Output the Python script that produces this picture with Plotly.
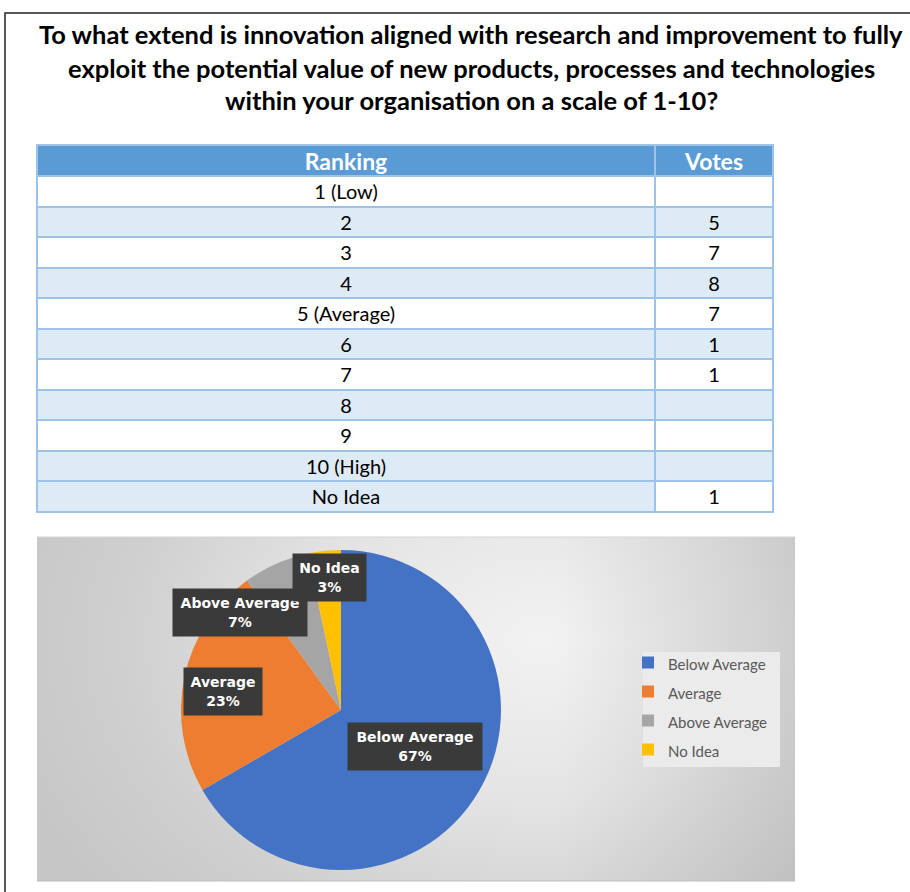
import plotly.graph_objects as go

# ---- data -------------------------------------------------------------
title_lines = [
    "To what extend is innovation aligned with research and improvement to fully",
    "exploit the potential value of new products, processes and technologies",
    "within your organisation on a scale of 1-10?",
]

table_header = ["Ranking", "Votes"]
rankings = ["1 (Low)", "2", "3", "4", "5 (Average)", "6", "7", "8", "9", "10 (High)", "No Idea"]
votes = [None, 5, 7, 8, 7, 1, 1, None, None, None, 1]

groups = ["Below Average", "Average", "Above Average", "No Idea"]
# which ranking rows feed each group
group_members = {
    "Below Average": ["1 (Low)", "2", "3", "4"],
    "Average": ["5 (Average)"],
    "Above Average": ["6", "7", "8", "9", "10 (High)"],
    "No Idea": ["No Idea"],
}
group_colors = ["#4472C4", "#ED7D31", "#A5A5A5", "#FFC000"]

vote_of = dict(zip(rankings, votes))
group_votes = [sum(vote_of[r] or 0 for r in group_members[g]) for g in groups]
total_votes = sum(group_votes)

# ---- page geometry (pixels) -----------------------------------------
W, H = 910, 892


def fx(x):
    return x / W


def fy(y):
    return 1 - y / H


# chart panel box in pixels
P_L, P_R, P_T, P_B = 37, 795, 537, 881


def nx(x):
    return (x - P_L) / (P_R - P_L)


def ny(y):
    return (P_B - y) / (P_B - P_T)


FONT = "Lato"

fig = go.Figure()

# ---- table ------------------------------------------------------------
BLUE_ROW = "#DDEBF7"
rank_fill = ["white" if i % 2 == 0 else BLUE_ROW for i in range(len(rankings))]
rank_fill[-1] = BLUE_ROW
vote_fill = ["white" if i % 2 == 0 else BLUE_ROW for i in range(len(rankings))]
vote_fill[-1] = "white"
vote_text = ["" if v is None else str(v) for v in votes]

fig.add_trace(go.Table(
    domain=dict(x=[fx(37), fx(773)], y=[fy(520), fy(145)]),
    columnwidth=[618, 118],
    header=dict(
        values=table_header,
        fill_color="#5B9BD5",
        line=dict(color="#9DC3E6", width=2),
        font=dict(family=FONT, size=23, color="white", weight="bold"),
        align="center",
        height=31,
    ),
    cells=dict(
        values=[rankings, vote_text],
        fill_color=[rank_fill, vote_fill],
        line=dict(color="#9DC3E6", width=2),
        font=dict(family=FONT, size=20, color="black"),
        align="center",
        height=30.5,
    ),
))

# ---- chart panel background (grey gradients) -------------------------
cx_px, cy_px, hw_px, hh_px = 540, 640, 560, 400
fig.add_trace(go.Scatter(
    x=[nx(cx_px - hw_px), nx(cx_px + hw_px), nx(cx_px + hw_px), nx(cx_px - hw_px), nx(cx_px - hw_px)],
    y=[ny(cy_px + hh_px), ny(cy_px + hh_px), ny(cy_px - hh_px), ny(cy_px - hh_px), ny(cy_px + hh_px)],
    mode="lines",
    fill="toself",
    fillgradient=dict(type="radial",
                      colorscale=[[0, "#f2f2f2"], [0.4, "#e4e4e4"], [0.75, "#cfcfcf"], [1, "#c6c6c6"]]),
    line=dict(width=0),
    hoverinfo="skip",
    showlegend=False,
    xaxis="x", yaxis="y",
))
# gentle darkening toward the right edge
fig.add_trace(go.Scatter(
    x=[nx(560), nx(P_R), nx(P_R), nx(560), nx(560)],
    y=[0, 0, 1, 1, 0],
    mode="lines",
    fill="toself",
    fillgradient=dict(type="horizontal",
                      colorscale=[[0, "rgba(160,160,160,0)"], [1, "rgba(160,160,160,0.3)"]]),
    line=dict(width=0),
    hoverinfo="skip",
    showlegend=False,
    xaxis="x", yaxis="y",
))

# ---- pie --------------------------------------------------------------
pie_labels = [f"<span style='font-size:15px'>{g}</span>" for g in groups]
fig.add_trace(go.Pie(
    labels=pie_labels,
    values=group_votes,
    marker=dict(colors=group_colors, line=dict(width=0)),
    sort=False,
    direction="clockwise",
    rotation=0,
    textinfo="none",
    hovertext=groups,
    hoverinfo="text+percent",
    domain=dict(x=[fx(181), fx(501)], y=[fy(870), fy(550)]),
))

# ---- slice call-outs ---------------------------------------------------
callout_at = {
    "Above Average": (240, 612, 134),
    "No Idea": (329, 577, 73),
    "Below Average": (415, 746, 134),
    "Average": (223, 691, 78),
}
annotations = []
for g in ["Average", "Below Average", "Above Average", "No Idea"]:
    i = groups.index(g)
    pct = round(100 * group_votes[i] / total_votes)
    cx, cy, w = callout_at[g]
    annotations.append(dict(
        x=fx(cx), y=fy(cy), xref="paper", yref="paper",
        text=f"<b>{g}</b><br><b>{pct}%</b>",
        showarrow=False, xanchor="center", yanchor="middle",
        width=w, height=47,
        bgcolor="#3a3a3a", borderpad=0,
        font=dict(family="DejaVu Sans", size=14, color="white"),
    ))

# ---- heading -----------------------------------------------------------
for line, y in zip(title_lines, [34, 68, 100]):
    annotations.append(dict(
        x=fx(471), y=fy(y), xref="paper", yref="paper",
        text=f"<b>{line}</b>", showarrow=False,
        xanchor="center", yanchor="middle",
        font=dict(family=FONT, size=25.5, color="black"),
    ))

shapes = [
    # page frame
    dict(type="path", xref="paper", yref="paper",
         path=f"M {fx(5)} {fy(892)} L {fx(5)} {fy(13)} L {fx(912)} {fy(13)}",
         line=dict(color="#222222", width=1.5)),
    # chart panel edges
    dict(type="line", xref="paper", yref="paper",
         x0=fx(P_L), x1=fx(P_R), y0=fy(P_T), y1=fy(P_T),
         line=dict(color="#d4d4d4", width=1)),
    dict(type="line", xref="paper", yref="paper",
         x0=fx(P_L), x1=fx(P_R), y0=fy(P_B), y1=fy(P_B),
         line=dict(color="#bdbdbd", width=1)),
    # legend box
    dict(type="rect", xref="paper", yref="paper",
         x0=fx(643), x1=fx(780), y0=fy(767), y1=fy(652),
         fillcolor="#ebebeb", line=dict(width=0), layer="above"),
]

fig.update_layout(
    width=W, height=H,
    margin=dict(l=0, r=0, t=0, b=0),
    paper_bgcolor="white",
    plot_bgcolor="rgba(0,0,0,0)",
    xaxis=dict(domain=[fx(P_L), fx(P_R)], range=[0, 1], visible=False, fixedrange=True),
    yaxis=dict(domain=[fy(P_B), fy(P_T)], range=[0, 1], visible=False, fixedrange=True),
    legend=dict(
        x=fx(628), y=fy(643), xanchor="left", yanchor="top",
        bgcolor="rgba(0,0,0,0)",
        font=dict(family=FONT, size=20, color="#595959"),
        traceorder="normal",
    ),
    annotations=annotations,
    shapes=shapes,
    showlegend=True,
)

fig.write_html("out.html")
